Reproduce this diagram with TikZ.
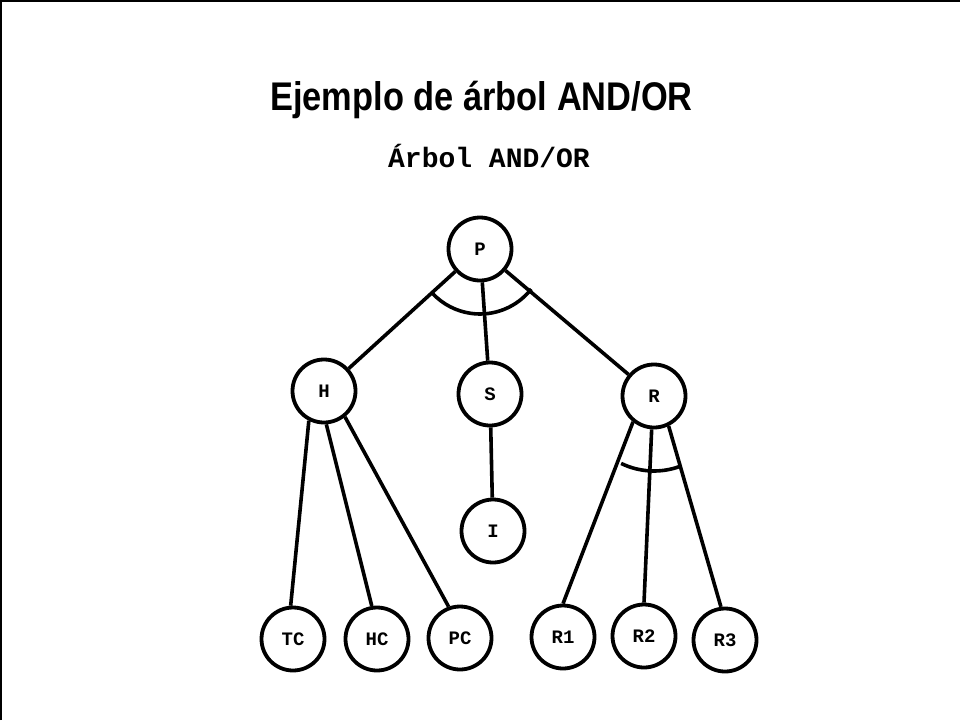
\documentclass[tikz,border=0pt]{standalone}
\usepackage{fontspec}
\setmainfont{Liberation Sans}
\setmonofont{Liberation Mono}
\usepackage{tikz}

\tikzset{
  nodo/.style={draw, circle, line width=3.8pt, minimum size=63pt, inner sep=0pt,
    font=\ttfamily\bfseries\fontsize{19}{19}\selectfont},
  enlace/.style={line width=3.6pt},
}

\begin{document}
\begin{tikzpicture}[x=1pt, y=-1pt]
            \useasboundingbox (0, 0) rectangle (960, 720);
            \draw[line width=2.5pt] (1, 720) to (1, 1) to (960, 1);
            \node[anchor=base] (titulo) at (481.5, 110) {\scalebox{0.86}[1]{\fontsize{40}{40}\selectfont\bfseries Ejemplo de árbol AND/OR}};
            \node[anchor=base] (subtitulo) at (489, 167) {\ttfamily\bfseries\fontsize{28}{28}\selectfont Árbol AND/OR};
            \node[nodo] (P) at (480, 249) {P};
            \node[nodo] (H) at (324, 391) {H};
            \node[nodo] (S) at (490, 394) {S};
            \node[nodo] (R) at (654, 396) {R};
            \node[nodo] (I) at (493, 531) {I};
            \node[nodo] (TC) at (293, 639) {TC};
            \node[nodo] (HC) at (377, 639) {HC};
            \node[nodo] (PC) at (460, 638) {PC};
            \node[nodo] (R1) at (563, 637) {R1};
            \node[nodo] (R2) at (644, 636) {R2};
            \node[nodo] (R3) at (725, 640) {R3};
            \draw[enlace] (P) to (H);
            \draw[enlace] (P) to (S);
            \draw[enlace] (P) to (R);
            \draw[enlace] (S) to (I);
            \draw[enlace] (H.243) to (TC.94);
            \draw[enlace] (H.274) to (HC.99);
            \draw[enlace] (H.309) to (PC.110);
            \draw[enlace] (R.231) to (R1.90);
            \draw[enlace] (R.266) to (R2.90);
            \draw[enlace] (R.296) to (R3.97);
            % arcos AND
            \draw[enlace] (P.center) ++(38:65) arc[start angle=38, end angle=137, radius=65];
            \draw[enlace] (R.center) ++(70:75) arc[start angle=70, end angle=116, radius=75];
        \end{tikzpicture}
\end{document}
